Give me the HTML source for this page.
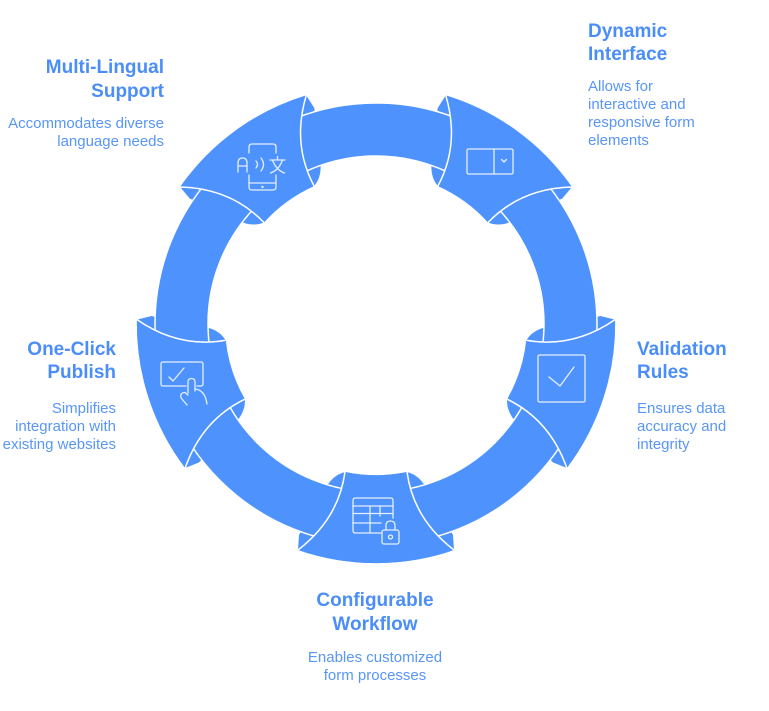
<!DOCTYPE html>
<html>
<head>
<meta charset="utf-8">
<style>
  html,body{margin:0;padding:0;background:#ffffff;}
  body{width:769px;height:711px;overflow:hidden;}
  svg{display:block;}
  .t{font-family:"Liberation Sans",Arial,sans-serif;font-weight:bold;font-size:19px;fill:#4b8ef8;}
  .d{font-family:"Liberation Sans",Arial,sans-serif;font-size:15px;fill:#5896f7;}
  .ic{fill:none;stroke:#e4eeff;stroke-width:1.3;stroke-linecap:round;stroke-linejoin:round;}
</style>
</head>
<body>
<svg width="769" height="711" viewBox="0 0 769 711" xmlns="http://www.w3.org/2000/svg">
  <defs>
    <path id="back" d="M -31,148 Q -44,151 -52,167 L -73,204 L -77,211 L -78,226 A 239 239 0 0 0 78,226 L 77,211 L 73,204 L 52,167 Q 44,151 31,148 A 151 151 0 0 1 -31,148 Z"/>
    <path id="face" d="M -31,148 Q -37.5,195 -78,226 A 239 239 0 0 0 78,226 Q 37.5,195 31,148 A 151 151 0 0 1 -31,148 Z"/>
    <path id="edges" d="M -31,148 Q -37.5,195 -78,226 M 31,148 Q 37.5,195 78,226"/>
  </defs>

  <g transform="translate(376,324)">
    <g fill="#4e93fd">
      <use href="#back" transform="rotate(0)"/>
      <use href="#back" transform="rotate(72)"/>
      <use href="#back" transform="rotate(144)"/>
      <use href="#back" transform="rotate(-144)"/>
      <use href="#back" transform="rotate(-72)"/>
    </g>
    <path fill="#4e93fd" fill-rule="evenodd" stroke="#ffffff" stroke-width="1.5"
      d="M 221,0 A 221 221 0 1 0 -221,0 A 221 221 0 1 0 221,0 Z M 168,0 A 168 168 0 1 1 -168,0 A 168 168 0 1 1 168,0 Z"/>
    <g fill="#4e93fd">
      <use href="#face" transform="rotate(0)"/>
      <use href="#face" transform="rotate(72)"/>
      <use href="#face" transform="rotate(144)"/>
      <use href="#face" transform="rotate(-144)"/>
      <use href="#face" transform="rotate(-72)"/>
    </g>
    <g fill="none" stroke="#ffffff" stroke-width="1.5">
      <use href="#edges" transform="rotate(0)"/>
      <use href="#edges" transform="rotate(72)"/>
      <use href="#edges" transform="rotate(144)"/>
      <use href="#edges" transform="rotate(-144)"/>
      <use href="#edges" transform="rotate(-72)"/>
    </g>
  </g>

  <!-- Multi-lingual -->
  <g class="ic">
    <path d="M249,153 V147 Q249,144 252,144 H273 Q276,144 276,147 V153"/>
    <path d="M249,175 V187 Q249,190 252,190 H273 Q276,190 276,187 V175"/>
    <path d="M249,183 H276"/>
    <path d="M238,172 V163 Q238,158 242.5,158 Q247,158 247,163 V172 M238,166 H247"/>
    <path d="M256,161 Q259,164.5 256,168"/>
    <path d="M261,158 Q266,164.5 261,171"/>
    <path d="M277.5,156.5 V159.5 M270,160 H285 M272.5,160 Q276,170 284.5,173 M282.5,160 Q279,170 270.5,173"/>
  </g>
  <circle cx="262.5" cy="187" r="1.2" fill="#e4eeff"/>

  <!-- Dynamic interface -->
  <g class="ic">
    <rect x="467" y="149" width="46" height="25" rx="1.5"/>
    <path d="M494,149 V174"/>
    <path d="M501.5,159.5 L504,162 L506.5,159.5"/>
  </g>

  <!-- Validation -->
  <g class="ic">
    <rect x="538" y="355" width="47" height="47" rx="1.5"/>
    <path d="M549,377 L560,386 L574,367"/>
  </g>

  <!-- Configurable workflow -->
  <g class="ic">
    <path d="M382,533 H355.5 Q353,533 353,530.5 V500.5 Q353,498 355.5,498 H390.5 Q393,498 393,500.5 V518"/>
    <path d="M353,506 H393 M353,513.5 H393 M353,523 H381"/>
    <path d="M370,506 V533 M380,506 V516"/>
    <rect x="382" y="530" width="17" height="14" rx="2"/>
    <path d="M386,530 V525.5 Q386,521 390.5,521 Q395,521 395,525.5 V530"/>
    <circle cx="390.5" cy="537" r="2"/>
  </g>

  <!-- One-click publish -->
  <g class="ic">
    <path d="M186,386 H163 Q161,386 161,384 V364 Q161,362 163,362 H201 Q203,362 203,364 V384 Q203,386 201,386 H197"/>
    <path d="M169,377 L173,381 L184,368"/>
    <path d="M188,393 V382 Q188,378.5 191.5,378.5 Q195,378.5 195,382 V391"/>
    <path d="M195,389 Q205,390 207,404"/>
    <path d="M188,395 L185,392.5 Q179,393 181.5,398.5 L187,405"/>
  </g>

  <!-- Labels -->
  <text class="t" x="164" y="73" text-anchor="end">Multi-Lingual</text>
  <text class="t" x="164" y="97" text-anchor="end">Support</text>
  <text class="d" x="164" y="128" text-anchor="end">Accommodates diverse</text>
  <text class="d" x="164" y="146" text-anchor="end">language needs</text>

  <text class="t" x="588" y="37">Dynamic</text>
  <text class="t" x="588" y="60">Interface</text>
  <text class="d" x="588" y="91">Allows for</text>
  <text class="d" x="588" y="109">interactive and</text>
  <text class="d" x="588" y="127">responsive form</text>
  <text class="d" x="588" y="145">elements</text>

  <text class="t" x="116" y="355" text-anchor="end">One-Click</text>
  <text class="t" x="116" y="378" text-anchor="end">Publish</text>
  <text class="d" x="116" y="413" text-anchor="end">Simplifies</text>
  <text class="d" x="116" y="431" text-anchor="end">integration with</text>
  <text class="d" x="116" y="449" text-anchor="end">existing websites</text>

  <text class="t" x="637" y="355">Validation</text>
  <text class="t" x="637" y="378">Rules</text>
  <text class="d" x="637" y="413">Ensures data</text>
  <text class="d" x="637" y="431">accuracy and</text>
  <text class="d" x="637" y="449">integrity</text>

  <text class="t" x="375" y="606" text-anchor="middle">Configurable</text>
  <text class="t" x="375" y="630" text-anchor="middle">Workflow</text>
  <text class="d" x="375" y="662" text-anchor="middle">Enables customized</text>
  <text class="d" x="375" y="680" text-anchor="middle">form processes</text>
</svg>
</body>
</html>
